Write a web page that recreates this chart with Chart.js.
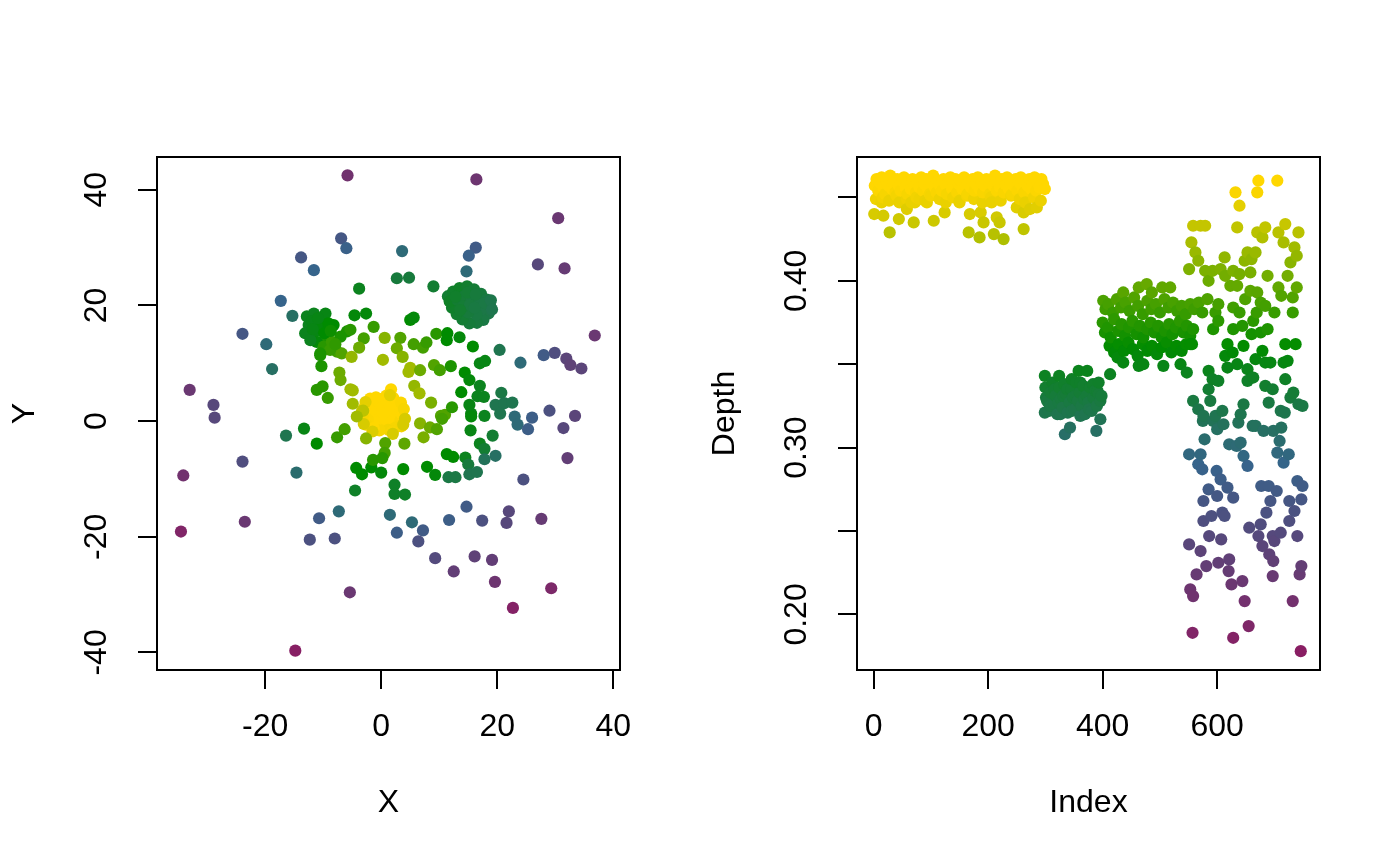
<!DOCTYPE html>
<html><head><meta charset="utf-8">
<script src="https://cdn.jsdelivr.net/npm/chart.js@4.4.1/dist/chart.umd.min.js"></script>
<style>
html,body{margin:0;padding:0;background:#fff;}
#wrap{position:relative;width:1400px;height:866px;background:#fff;}
canvas{position:absolute;top:0;}
#c1{left:0;} #c2{left:700px;}
</style></head><body>
<div id="wrap"><canvas id="c1" width="700" height="866"></canvas><canvas id="c2" width="700" height="866"></canvas></div>
<script>
// ---------- tick values / labels ----------
const leftTicksX = [-20, 0, 20, 40];
const leftTicksY = [-40, -20, 0, 20, 40];
const rightTicksX = [0, 200, 400, 600];
const rightTicksY = [0.20, 0.25, 0.30, 0.35, 0.40, 0.45];
const rightTickLabelsY = ['0.20', '', '0.30', '', '0.40', ''];
const leftTitles = ['X', 'Y'];
const rightTitles = ['Index', 'Depth'];

// ---------- left panel: [X, Y, depth] ----------
const leftGold = [[-2.5,1.5,0.458],[-2.0,2.8,0.461],[-1.6,0.4,0.455],[-1.2,3.6,0.460],[-0.8,1.8,0.462],[-0.5,-0.6,0.454],[-0.2,2.6,0.459],[0.1,0.9,0.463],[0.3,3.9,0.457],[0.5,-1.0,0.453],[0.8,2.0,0.461],[1.1,0.2,0.456],[1.4,3.1,0.460],[1.7,1.3,0.462],[2.0,-0.4,0.455],[2.3,2.4,0.458],[2.6,0.7,0.461],[2.9,1.8,0.457],[3.3,0.1,0.453],[3.6,1.2,0.456],[-1.0,-0.2,0.459],[0.0,2.0,0.462],[1.0,1.5,0.460],[2.2,3.4,0.457],[-1.8,2.0,0.461],[0.6,0.4,0.458],[1.6,2.3,0.463],[-0.4,3.2,0.456],[2.5,-1.1,0.452],[3.1,2.5,0.455],[-2.3,0.3,0.454],[-0.9,4.1,0.455],[1.2,-1.5,0.451],[0.4,1.3,0.462],[-2.9,2.4,0.456],[-2.6,-0.6,0.453],[-1.9,3.9,0.457],[-0.3,-1.6,0.452],[0.9,4.4,0.458],[2.1,4.0,0.455],[3.4,3.2,0.454],[3.9,2.1,0.452],[3.5,-0.9,0.451],[1.9,-1.8,0.452],[-1.3,-1.2,0.455],[-3.2,0.8,0.452],[1.7,5.5,0.462]];
const leftPale = [[-3.0,-0.5,0.440],[3.8,-0.6,0.440],[-3.3,1.8,0.435],[4.1,0.4,0.440],[-1.5,-1.8,0.442],[2.0,-2.2,0.440],[-2.7,3.3,0.445],[1.5,4.5,0.445]];
const leftDarkNE = [[11.5,21.6,0.335],[12.4,22.4,0.338],[13.5,23.0,0.340],[14.8,23.3,0.337],[16.0,22.8,0.333],[17.2,22.0,0.330],[18.2,21.0,0.327],[18.8,19.8,0.325],[18.5,18.6,0.323],[17.6,17.5,0.326],[16.5,17.0,0.329],[15.2,16.9,0.331],[14.0,17.6,0.334],[13.0,18.5,0.336],[12.2,19.6,0.339],[11.8,20.7,0.341],[13.2,20.9,0.335],[14.3,21.6,0.332],[15.6,21.4,0.328],[16.8,20.6,0.326],[17.3,19.3,0.324],[16.4,18.4,0.327],[15.0,18.8,0.330],[14.1,19.8,0.333],[15.3,20.1,0.329],[16.1,19.6,0.327],[13.6,19.2,0.336],[12.8,21.5,0.338],[17.9,20.4,0.325],[14.9,22.2,0.334],[16.3,21.9,0.330],[18.9,20.9,0.322],[19.1,19.3,0.321]];
const leftGreenNW = [[-12.8,18.1,0.345],[-11.6,18.6,0.345],[-9.6,18.6,0.350],[-8.2,16.6,0.360],[-12.5,16.6,0.345],[-13.1,15.2,0.345],[-11.4,15.5,0.350],[-10.2,16.0,0.355],[-9.3,14.3,0.370],[-11.1,13.7,0.355],[-12.2,14.0,0.345],[-9.9,12.9,0.375],[-8.5,13.7,0.380],[-7.6,12.0,0.385],[-8.8,12.3,0.380],[-10.5,11.7,0.370],[-6.8,11.7,0.390],[-5.9,15.5,0.370],[-5.3,15.8,0.375],[-7.0,14.6,0.370],[-10.5,16.9,0.355],[-9.1,16.9,0.360],[-12.0,17.3,0.348],[-10.9,17.8,0.350],[-11.8,15.9,0.350],[-9.8,15.2,0.360],[-8.7,15.6,0.365],[-7.9,13.3,0.378]];
const leftYellowGreen = [[-1.3,16.3,0.380],[-3.0,14.3,0.385],[0.6,14.4,0.410],[-3.8,12.7,0.400],[-5.1,11.1,0.415],[0.3,10.6,0.420],[-10.3,9.5,0.370],[-10.5,11.4,0.370],[-7.2,8.4,0.400],[-7.0,7.1,0.400],[-11.1,5.4,0.375],[-10.1,6.0,0.375],[-9.2,4.0,0.380],[-5.3,5.5,0.420],[-4.9,5.3,0.420],[-4.9,3.0,0.420],[-3.1,1.8,0.430],[-4.2,0.8,0.420],[3.3,14.4,0.390],[2.7,12.6,0.400],[3.7,11.1,0.410],[5.6,13.3,0.385],[7.2,12.7,0.385],[7.8,13.6,0.380],[5.0,9.2,0.420],[4.7,8.5,0.420],[6.7,8.8,0.400],[9.1,9.7,0.390],[10.1,8.8,0.385],[5.7,6.1,0.415],[6.6,4.8,0.420],[8.6,3.2,0.405],[10.3,0.9,0.390],[11.0,1.1,0.390],[6.7,-0.4,0.410],[8.4,-1.1,0.400],[9.6,-1.4,0.390],[7.3,-2.8,0.405],[4.0,-3.9,0.395],[10.5,0.4,0.385],[-7.6,-2.8,0.380],[-6.3,-1.4,0.385],[-2.6,-3.0,0.410],[0.7,-3.8,0.390],[0.6,-5.5,0.385]];
const leftGreen = [[-3.8,22.9,0.345],[-4.6,18.3,0.355],[-2.6,18.6,0.355],[2.7,24.7,0.330],[4.8,24.8,0.330],[9.0,23.3,0.335],[5.0,17.5,0.360],[5.6,17.9,0.355],[9.5,15.1,0.375],[11.4,15.2,0.360],[11.3,14.0,0.360],[13.5,14.5,0.355],[15.8,12.9,0.360],[17.0,10.0,0.350],[17.9,10.4,0.350],[12.0,9.5,0.370],[14.4,8.4,0.360],[15.2,7.1,0.355],[17.0,6.1,0.345],[16.6,4.3,0.345],[17.7,4.2,0.345],[13.8,5.0,0.360],[12.2,2.4,0.375],[15.2,2.8,0.350],[15.5,1.3,0.350],[17.8,0.9,0.345],[20.7,4.9,0.325],[19.7,2.8,0.320],[21.2,3.1,0.320],[22.6,3.2,0.320],[20.5,1.3,0.320],[15.5,0.8,0.355],[15.4,-1.6,0.350],[19.2,-2.5,0.335],[17.0,-3.9,0.345],[17.8,-4.8,0.335],[11.3,-5.7,0.360],[12.4,-6.2,0.360],[14.5,-6.3,0.345],[15.0,-7.5,0.330],[15.2,-9.2,0.320],[16.5,-8.8,0.320],[7.9,-7.9,0.360],[9.3,-9.3,0.355],[11.6,-9.7,0.325],[12.8,-9.7,0.325],[3.8,-8.3,0.360],[2.3,-11.0,0.340],[2.3,-12.6,0.340],[4.1,-12.7,0.340],[-13.3,-1.3,0.350],[-11.1,-3.9,0.360],[-4.3,-8.1,0.360],[-3.3,-9.2,0.360],[-1.7,-8.0,0.360],[0.0,-8.9,0.355],[-4.5,-12.0,0.340],[-1.4,-6.7,0.375],[0.2,-6.4,0.375]];
const leftBlue = [[-6.9,31.6,0.270],[-6.0,29.9,0.285],[-13.8,28.3,0.270],[-11.6,26.1,0.290],[-17.3,20.8,0.290],[-15.3,18.2,0.310],[-23.9,15.1,0.270],[-19.8,13.3,0.300],[-18.8,9.0,0.310],[3.6,29.4,0.300],[16.3,30.0,0.275],[15.1,28.6,0.285],[14.7,25.9,0.300],[20.4,12.3,0.320],[24.0,10.1,0.300],[23.0,0.8,0.300],[26.0,0.6,0.280],[23.5,-0.6,0.300],[25.3,-1.4,0.280],[19.7,-6.0,0.310],[17.8,-6.6,0.315],[-16.4,-2.5,0.320],[-14.6,-8.9,0.305],[-7.3,-15.6,0.300],[-10.7,-16.8,0.275],[-12.3,-20.5,0.260],[-8.0,-20.3,0.260],[1.5,-16.2,0.300],[5.3,-17.5,0.300],[2.7,-19.3,0.280],[7.2,-18.9,0.275],[6.4,-20.8,0.260],[11.7,-17.1,0.280],[14.7,-14.8,0.275]];
const leftPurple = [[-5.8,42.5,0.210],[16.4,41.8,0.215],[30.5,35.1,0.220],[36.8,14.8,0.220],[-33.0,5.4,0.220],[-28.9,2.8,0.245],[-28.7,0.6,0.245],[-23.9,-7.0,0.255],[-34.1,-9.4,0.210],[-34.5,-19.1,0.190],[-23.5,-17.4,0.220],[-5.4,-29.6,0.220],[-14.8,-39.7,0.180],[27.0,27.1,0.245],[31.6,26.4,0.225],[31.9,10.8,0.240],[32.6,9.7,0.235],[34.5,9.1,0.240],[29.9,11.8,0.255],[28.0,11.4,0.275],[29.0,1.8,0.260],[33.4,0.9,0.240],[31.4,-1.2,0.245],[32.1,-6.4,0.230],[24.5,-10.1,0.260],[27.6,-16.9,0.225],[22.0,-15.6,0.245],[21.6,-17.6,0.245],[17.4,-17.2,0.260],[9.3,-23.7,0.250],[16.1,-23.4,0.235],[19.1,-24.0,0.230],[12.5,-26.0,0.230],[19.6,-27.8,0.215],[29.3,-28.9,0.195],[22.7,-32.3,0.185]];

// ---------- right panel: [index, depth] ----------
const rightBand = [[2,0.457],[5,0.461],[8,0.454],[11,0.459],[14,0.462],[17,0.456],[20,0.452],[23,0.460],[26,0.457],[29,0.463],[32,0.455],[35,0.459],[38,0.453],[41,0.461],[44,0.457],[47,0.454],[50,0.460],[53,0.462],[56,0.456],[59,0.452],[62,0.459],[65,0.455],[68,0.461],[71,0.457],[74,0.453],[77,0.460],[80,0.456],[83,0.462],[86,0.454],[89,0.458],[92,0.461],[95,0.455],[98,0.452],[101,0.459],[104,0.463],[107,0.456],[110,0.453],[113,0.460],[116,0.457],[119,0.454],[122,0.461],[125,0.458],[128,0.452],[131,0.459],[134,0.462],[137,0.455],[140,0.457],[143,0.461],[146,0.453],[149,0.458],[152,0.460],[155,0.455],[158,0.462],[161,0.457],[164,0.452],[167,0.459],[170,0.456],[173,0.461],[176,0.454],[179,0.458],[182,0.462],[185,0.455],[188,0.459],[191,0.453],[194,0.457],[197,0.461],[200,0.456],[203,0.452],[206,0.460],[209,0.457],[212,0.463],[215,0.454],[218,0.459],[221,0.456],[224,0.461],[227,0.453],[230,0.458],[233,0.462],[236,0.455],[239,0.459],[242,0.452],[245,0.457],[248,0.461],[251,0.454],[254,0.459],[257,0.462],[260,0.456],[263,0.453],[266,0.460],[269,0.457],[272,0.461],[275,0.455],[278,0.458],[281,0.462],[284,0.454],[287,0.459],[290,0.456],[293,0.461],[296,0.458],[299,0.455]];
const rightBandLow = [[4,0.449],[16,0.450],[27,0.448],[40,0.451],[58,0.449],[66,0.447],[75,0.450],[90,0.448],[100,0.451],[115,0.449],[126,0.447],[139,0.450],[150,0.448],[163,0.451],[175,0.449],[190,0.447],[205,0.450],[222,0.448],[240,0.451],[255,0.449],[265,0.447],[280,0.450],[292,0.448]];
const rightBandScatter = [[14,0.447],[1,0.440],[17,0.439],[45,0.447],[44,0.437],[70,0.435],[28,0.429],[105,0.436],[124,0.441],[72,0.447],[80,0.449],[93,0.447],[58,0.443],[166,0.429],[185,0.426],[210,0.428],[227,0.425],[168,0.440],[187,0.441],[192,0.435],[215,0.438],[220,0.435],[262,0.431],[150,0.447],[206,0.447],[250,0.444],[273,0.443],[285,0.444],[262,0.441]];
const rightDark = [[300,0.336],[303,0.328],[306,0.322],[309,0.333],[312,0.339],[315,0.326],[318,0.331],[321,0.320],[324,0.336],[327,0.329],[330,0.324],[333,0.338],[336,0.332],[339,0.321],[342,0.327],[345,0.335],[348,0.330],[351,0.323],[354,0.339],[357,0.328],[360,0.333],[363,0.325],[366,0.337],[369,0.320],[372,0.331],[375,0.327],[378,0.336],[381,0.322],[384,0.330],[387,0.334],[390,0.325],[393,0.332],[396,0.328],[301,0.330],[308,0.325],[316,0.335],[323,0.327],[331,0.331],[338,0.335],[346,0.322],[353,0.331],[361,0.339],[368,0.329],[376,0.323],[383,0.338],[391,0.334],[398,0.331],[299,0.343],[324,0.343],[346,0.341],[358,0.346],[373,0.346],[393,0.339],[334,0.308],[343,0.312],[389,0.310],[396,0.317],[299,0.321],[326,0.320],[361,0.319]];
const rightGreen = [[436,0.393],[463,0.396],[477,0.398],[486,0.393],[504,0.396],[518,0.396],[401,0.388],[405,0.383],[410,0.386],[418,0.381],[425,0.389],[432,0.384],[440,0.387],[447,0.382],[455,0.390],[462,0.385],[470,0.380],[478,0.388],[485,0.383],[493,0.386],[500,0.381],[508,0.389],[515,0.384],[523,0.387],[530,0.382],[538,0.385],[545,0.380],[553,0.386],[560,0.383],[568,0.387],[574,0.381],[400,0.375],[404,0.369],[409,0.372],[414,0.366],[420,0.377],[427,0.370],[433,0.374],[439,0.367],[446,0.372],[452,0.376],[459,0.368],[465,0.373],[471,0.366],[478,0.371],[484,0.375],[490,0.369],[497,0.373],[503,0.366],[509,0.370],[516,0.374],[522,0.368],[528,0.372],[535,0.376],[541,0.369],[547,0.373],[553,0.367],[558,0.371],[412,0.361],[420,0.357],[428,0.362],[437,0.358],[445,0.363],[453,0.359],[461,0.355],[470,0.362],[478,0.358],[486,0.361],[495,0.356],[503,0.360],[512,0.363],[520,0.357],[529,0.361],[538,0.358],[546,0.362],[426,0.354],[436,0.351],[413,0.344],[463,0.349],[471,0.350],[506,0.349],[536,0.350],[547,0.345],[556,0.362]];
const rightTail = [[672,0.460],[705,0.460],[632,0.453],[670,0.453],[639,0.445],[558,0.433],[571,0.433],[579,0.433],[635,0.432],[670,0.429],[684,0.432],[679,0.426],[707,0.429],[719,0.434],[716,0.423],[742,0.429],[735,0.420],[739,0.415],[728,0.411],[555,0.423],[562,0.417],[567,0.412],[551,0.407],[613,0.414],[660,0.413],[653,0.417],[667,0.417],[648,0.412],[579,0.406],[592,0.406],[585,0.400],[606,0.407],[614,0.403],[628,0.406],[639,0.404],[658,0.405],[688,0.403],[723,0.403],[623,0.397],[635,0.397],[658,0.394],[670,0.393],[707,0.396],[739,0.396],[712,0.391],[732,0.390],[583,0.389],[602,0.386],[597,0.381],[628,0.384],[639,0.381],[649,0.389],[676,0.387],[684,0.385],[669,0.381],[700,0.381],[732,0.381],[602,0.376],[593,0.371],[628,0.371],[644,0.373],[663,0.376],[660,0.368],[676,0.369],[688,0.371],[553,0.362],[618,0.362],[646,0.361],[719,0.362],[737,0.362],[627,0.357],[614,0.355],[679,0.358],[667,0.353],[684,0.351],[693,0.351],[716,0.351],[723,0.352],[635,0.350],[618,0.348],[653,0.347],[585,0.346],[592,0.341],[602,0.340],[663,0.342],[653,0.340],[719,0.341],[684,0.337],[697,0.335],[733,0.333],[728,0.330],[585,0.335],[588,0.328],[558,0.328],[567,0.323],[609,0.322],[646,0.326],[690,0.327],[742,0.326],[749,0.325],[711,0.322],[718,0.321],[641,0.320],[576,0.319],[597,0.319],[575,0.316],[593,0.316],[611,0.314],[600,0.311],[637,0.315],[662,0.313],[667,0.313],[681,0.310],[698,0.310],[712,0.312],[578,0.305],[709,0.304],[621,0.302],[641,0.303],[634,0.301],[646,0.295],[653,0.289],[551,0.296],[571,0.296],[567,0.290],[574,0.287],[705,0.297],[725,0.296],[716,0.291],[599,0.286],[606,0.281],[618,0.276],[585,0.275],[600,0.271],[628,0.270],[576,0.268],[677,0.277],[690,0.277],[704,0.274],[693,0.268],[740,0.280],[749,0.277],[726,0.268],[747,0.269],[735,0.262],[686,0.261],[609,0.261],[613,0.259],[590,0.259],[576,0.256],[676,0.254],[726,0.256],[656,0.252],[672,0.247],[697,0.247],[711,0.249],[700,0.244],[679,0.241],[586,0.247],[607,0.245],[551,0.242],[571,0.238],[740,0.247],[691,0.236],[698,0.232],[621,0.233],[602,0.231],[581,0.229],[620,0.226],[564,0.224],[697,0.223],[747,0.229],[744,0.224],[644,0.220],[625,0.218],[553,0.215],[558,0.211],[648,0.208],[732,0.208],[557,0.189],[655,0.193],[628,0.186],[746,0.178]];

// ---------- colour ramp (maroon4 -> steelblue4 -> green4 -> gold) ----------
function depthColour(d) {
  const stops = [[0.175,[139,28,98]],[0.29,[54,100,139]],[0.36,[0,139,0]],[0.455,[255,215,0]]];
  let c = stops[stops.length-1][1];
  if (d <= stops[0][0]) c = stops[0][1];
  else {
    for (let k = 1; k < stops.length; k++) {
      if (d <= stops[k][0]) {
        const t = (d - stops[k-1][0]) / (stops[k][0] - stops[k-1][0]);
        const a = stops[k-1][1], b = stops[k][1];
        c = [0,1,2].map(j => Math.round(a[j] + (b[j]-a[j]) * t));
        break;
      }
    }
  }
  return 'rgb(' + c.join(',') + ')';
}

const FONT = {family: "'Liberation Sans', Arial, Helvetica, sans-serif", size: 32};
const boxPlugin = {
  id: 'rbox',
  afterDatasetsDraw(chart) {
    const {ctx, chartArea: a} = chart;
    ctx.save();
    ctx.strokeStyle = '#000';
    ctx.lineWidth = 2;
    ctx.strokeRect(a.left, a.top, a.right - a.left, a.bottom - a.top);
    ctx.restore();
  }
};

function gridOpts() {
  return {drawOnChartArea: false, drawTicks: true, tickLength: 19, color: '#000', lineWidth: 2};
}

function makeChart(canvasId, pts, xr, yr, xTicks, yTicks, yLabelFn, titles, yPad) {
  return new Chart(document.getElementById(canvasId), {
    type: 'scatter',
    data: {datasets: [{
      data: pts.map(p => ({x: p.x, y: p.y})),
      backgroundColor: pts.map(p => depthColour(p.d)),
      pointBackgroundColor: pts.map(p => depthColour(p.d)),
      pointRadius: 6.1, pointHoverRadius: 6.1, pointBorderWidth: 0, borderWidth: 0
    }]},
    options: {
      responsive: false, maintainAspectRatio: false, animation: false, devicePixelRatio: 1,
      layout: {padding: {left: 0, right: 80, top: 157, bottom: 0}},
      plugins: {legend: {display: false}, tooltip: {enabled: false}},
      events: [],
      scales: {
        x: {
          type: 'linear', min: xr[0], max: xr[1],
          afterBuildTicks: s => { s.ticks = xTicks.map(v => ({value: v})); },
          afterFit: s => { s.height = 196; },
          ticks: {font: FONT, color: '#000', padding: 19, minRotation: 0, maxRotation: 0, autoSkip: false, callback: v => String(v)},
          grid: gridOpts(), border: {display: false},
          title: {display: true, text: titles[0], font: FONT, color: '#000', padding: {top: 0, bottom: 44}}
        },
        y: {
          type: 'linear', min: yr[0], max: yr[1],
          afterBuildTicks: s => { s.ticks = yTicks.map(v => ({value: v})); },
          afterFit: s => { s.width = 157; },
          ticks: {font: FONT, color: '#000', padding: yPad, minRotation: 90, maxRotation: 90, crossAlign: 'center', autoSkip: false, callback: yLabelFn},
          grid: gridOpts(), border: {display: false},
          title: {display: true, text: titles[1], font: FONT, color: '#000', padding: {top: 6, bottom: 0}}
        }
      }
    },
    plugins: [boxPlugin]
  });
}

const leftAll = [].concat(leftGold, leftPale, leftDarkNE, leftGreenNW, leftYellowGreen, leftGreen, leftBlue, leftPurple)
  .map(p => ({x: p[0], y: p[1], d: p[2]}));
const rightAll = [].concat(rightBand, rightBandLow, rightBandScatter, rightDark, rightGreen, rightTail)
  .map(p => ({x: p[0], y: p[1], d: p[1]}))
  .sort((a, b) => a.x - b.x);

makeChart('c1', leftAll, [-38.63, 41.15], [-43.04, 45.67], leftTicksX, leftTicksY, v => String(v), leftTitles, 18);
makeChart('c2', rightAll, [-29.06, 779.6], [0.1667, 0.4742], rightTicksX, rightTicksY, (v, i) => rightTickLabelsY[i], rightTitles, 10);
</script>
</body></html>
